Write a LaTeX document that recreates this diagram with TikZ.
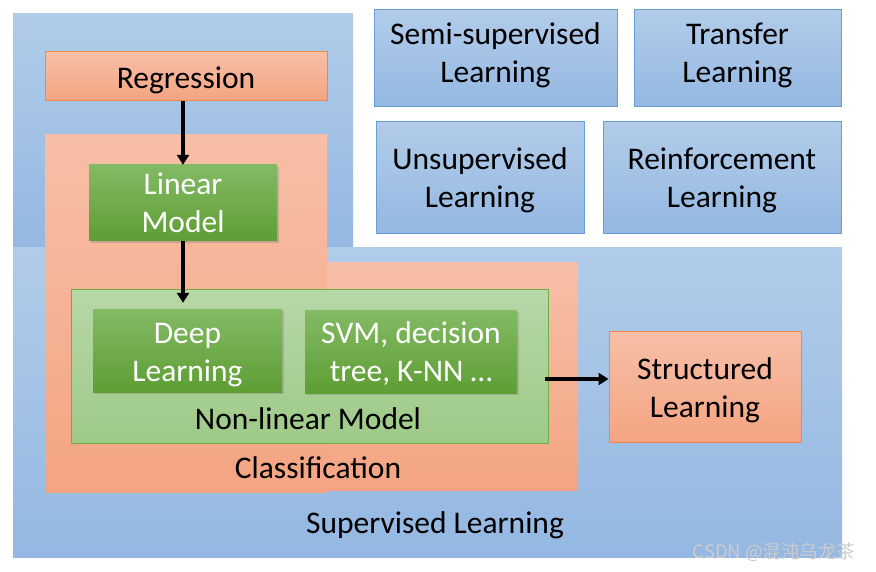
\documentclass[tikz,border=0pt]{standalone}
\usepackage{fontspec}
\setmainfont{Carlito}
\newfontfamily\cjkfont{Noto Sans CJK SC}
\usetikzlibrary{arrows.meta,shadows}

\definecolor{blueTop}{RGB}{177,204,233}
\definecolor{blueBot}{RGB}{148,184,226}
\definecolor{blueLine}{RGB}{104,158,214}
\definecolor{orangeTop}{RGB}{247,191,167}
\definecolor{orangeBot}{RGB}{244,164,130}
\definecolor{orangeLine}{RGB}{239,134,74}
\definecolor{greenTop}{RGB}{131,186,100}
\definecolor{greenBot}{RGB}{94,158,52}
\definecolor{paleTop}{RGB}{183,215,167}
\definecolor{paleBot}{RGB}{158,202,136}
\definecolor{paleLine}{RGB}{112,173,71}

\newcommand{\liftby}[2]{\raisebox{#1}[\height][\depth]{\begin{tabular}{@{}c@{}}#2\end{tabular}}}

\begin{document}
\begin{tikzpicture}[x=1pt,y=-1pt,
    every node/.style={font=\fontsize{31.5}{38}\selectfont, align=center, inner sep=0pt},
    area/.style={rectangle, draw=none},
    bluebox/.style={rectangle, draw=blueLine, line width=1pt, top color=blueTop, bottom color=blueBot},
    orangebox/.style={rectangle, draw=orangeLine, line width=1pt, top color=orangeTop, bottom color=orangeBot},
    greenbox/.style={rectangle, top color=greenTop, bottom color=greenBot, text=white,
      drop shadow={shadow xshift=2pt, shadow yshift=-2pt, opacity=0.35}},
    link/.style={line width=3.5pt, -{Triangle[length=10pt,width=12pt]}}]

  \useasboundingbox (0,0) rectangle (876,572);

  \begin{scope}[every node/.style={area}]
    \node[top color=blueTop, bottom color=blueBot, minimum width=340pt, minimum height=234pt] (supA) at (183,131) {};
    \node[top color=blueTop, bottom color=blueBot, minimum width=829pt, minimum height=309pt] (supB) at (427.5,402.5) {};
    \node[top color=orangeTop, bottom color=orangeBot, minimum width=282pt, minimum height=357pt] (clsA) at (186,313.5) {};
    \node[top color=orangeTop, bottom color=orangeBot, minimum width=251pt, minimum height=227pt] (clsB) at (452.5,376.5) {};
  \end{scope}

  \node[orangebox, minimum width=282pt, minimum height=49pt] (regression) at (186,76.5) {\liftby{-4pt}{Regression}};
  \node[greenbox, minimum width=188pt, minimum height=74pt] (linear) at (183,203) {\liftby{-3pt}{Linear\\Model}};
  \node[rectangle, draw=paleLine, line width=1pt, top color=paleTop, bottom color=paleBot,
    minimum width=477pt, minimum height=153pt] (nonlinear) at (309.5,366.5) {};
  \node[greenbox, minimum width=189pt, minimum height=83pt] (deep) at (187.5,350.5) {\liftby{-4pt}{Deep\\Learning}};
  \node[greenbox, minimum width=212pt, minimum height=83pt] (svm) at (411,351.5) {\liftby{-3pt}{SVM, decision\\tree, K-NN …}};
  \node[orangebox, minimum width=192pt, minimum height=111pt] (structured) at (705,386.5) {\liftby{-4pt}{Structured\\Learning}};

  \node[bluebox, minimum width=243pt, minimum height=97pt] (semi) at (495.5,58.5) {\liftby{3pt}{Semi-supervised\\Learning}};
  \node[bluebox, minimum width=207pt, minimum height=97pt] (transfer) at (737.5,58.5) {\liftby{3pt}{Transfer\\Learning}};
  \node[bluebox, minimum width=208pt, minimum height=112pt] (unsup) at (480,178) {\liftby{-3pt}{Unsupervised\\Learning}};
  \node[bluebox, minimum width=238pt, minimum height=112pt] (reinf) at (722,178) {\liftby{-3pt}{Reinforcement\\Learning}};

  \node (nonlinearlabel) at (308,418.5) {Non-linear Model};
  \node (classlabel) at (318,468) {Classification};
  \node (suplabel) at (435,525.5) {Supervised Learning};
  \node[font=\cjkfont\fontsize{18.5}{20}\selectfont, text=gray!40] (mark) at (774,552) {CSDN @混沌乌龙茶};

  \coordinate (out) at (545,379);
  \draw[link] (linear.north |- regression.south) -- (linear.north);
  \draw[link, shorten >=6pt] (linear.south) -- (linear.south |- deep.north);
  \draw[link] (out) -- (out -| structured.west);

\end{tikzpicture}
\end{document}
